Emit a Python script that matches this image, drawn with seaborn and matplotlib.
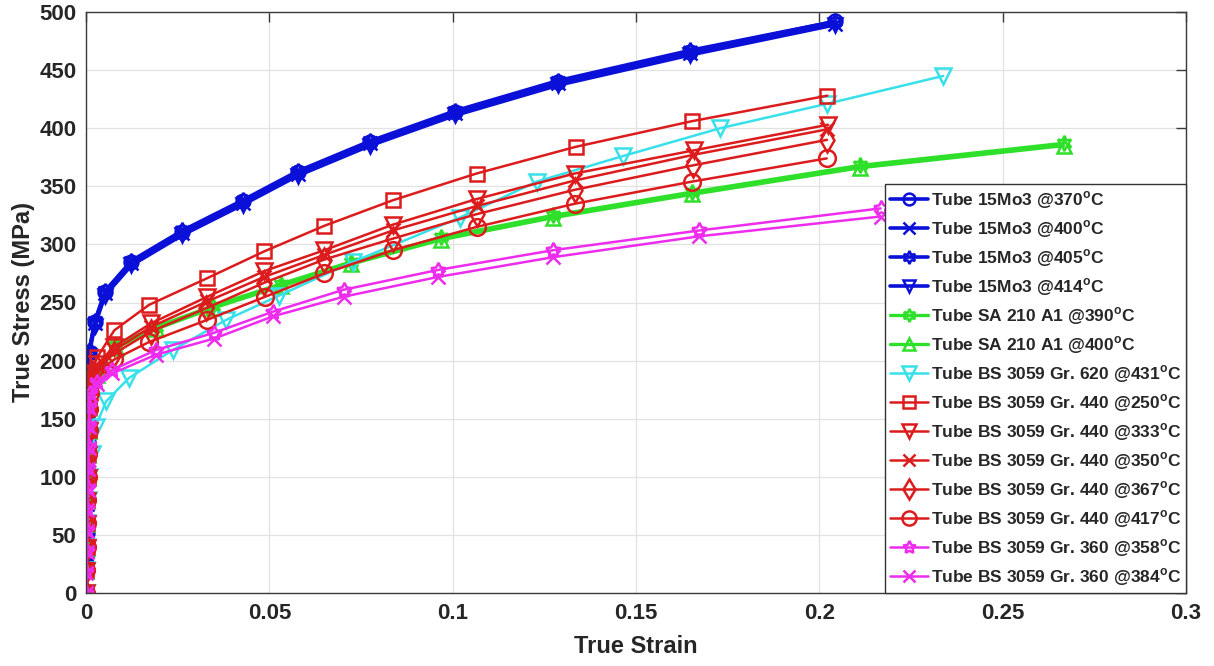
import matplotlib
matplotlib.use("Agg")
import matplotlib.pyplot as plt
import seaborn as sns
import pandas as pd

# ---------------- data ----------------
# Tube 15Mo3 (blue)
b370_x = [0, 0.0001, 0.0002, 0.0003, 0.0004, 0.0005, 0.0006, 0.0000, 0.0008, 0.0024, 0.0052, 0.0124, 0.0263, 0.0427, 0.0577, 0.0775, 0.1007, 0.1288, 0.1648, 0.2044]
b370_y = [0, 26, 52, 78, 104, 130, 155, 181, 207, 233, 259, 285, 311, 337, 362, 388, 414, 440, 466, 492]
b400_x = [0, 0.0001, 0.0002, 0.0003, 0.0004, 0.0005, 0.0006, 0.0000, 0.0008, 0.0024, 0.0052, 0.0124, 0.0263, 0.0427, 0.0577, 0.0775, 0.1007, 0.1288, 0.1648, 0.2044]
b400_y = [0, 25, 51, 77, 103, 129, 154, 180, 206, 232, 258, 284, 310, 336, 361, 387, 413, 439, 465, 490]
b405_x = [0, 0.0001, 0.0002, 0.0003, 0.0004, 0.0005, 0.0006, 0.0000, 0.0008, 0.0024, 0.0052, 0.0124, 0.0263, 0.0427, 0.0577, 0.0775, 0.1007, 0.1288, 0.1648, 0.2044]
b405_y = [0, 27, 53, 79, 105, 131, 156, 182, 208, 234, 260, 286, 312, 338, 363, 389, 415, 441, 467, 492]
b414_x = [0, 0.0001, 0.0002, 0.0003, 0.0004, 0.0005, 0.0006, 0.0000, 0.0008, 0.0024, 0.0052, 0.0124, 0.0263, 0.0427, 0.0577, 0.0775, 0.1007, 0.1288, 0.1648, 0.2044]
b414_y = [0, 25, 50, 76, 102, 127, 152, 178, 204, 230, 256, 282, 308, 334, 359, 385, 411, 437, 463, 489]

# Tube SA 210 A1 (green)
g390_x = [0, 0.0001, 0.0002, 0.0003, 0.0004, 0.0005, 0.0006, 0.0007, 0.0009, 0.0030, 0.0081, 0.0190, 0.0345, 0.0532, 0.0723, 0.0969, 0.1274, 0.1652, 0.2112, 0.2666]
g390_y = [0, 20, 40, 60, 80, 100, 120, 140, 160, 190, 213, 229, 247, 266, 285, 306, 325, 345, 368, 387]
g400_x = [0, 0.0001, 0.0002, 0.0003, 0.0004, 0.0005, 0.0006, 0.0007, 0.0009, 0.0030, 0.0081, 0.0190, 0.0345, 0.0532, 0.0723, 0.0969, 0.1274, 0.1652, 0.2112, 0.2666]
g400_y = [0, 19, 39, 59, 79, 99, 119, 139, 159, 188, 211, 227, 245, 264, 283, 304, 323, 343, 366, 385]

# Tube BS 3059 Gr. 620 (cyan)
c431_x = [0, 0.0001, 0.0002, 0.0004, 0.0006, 0.0008, 0.0017, 0.0026, 0.0055, 0.0117, 0.0236, 0.0382, 0.0527, 0.0728, 0.1019, 0.1229, 0.1464, 0.1730, 0.2021, 0.2338]
c431_y = [0, 20, 40, 60, 80, 100, 120, 143, 165, 185, 209, 235, 256, 285, 323, 354, 376, 400, 421, 445]

# Tube BS 3059 Gr. 440 (red)
r_elx = [0, 0.0001, 0.0002, 0.0003, 0.0004, 0.0005, 0.0006, 0.0007, 0.0008, 0.0010, 0.0014]
r250_x = r_elx + [0.0031, 0.0077, 0.0172, 0.0331, 0.0486, 0.0650, 0.0837, 0.1065, 0.1336, 0.1652, 0.2022]
r250_y = [0, 20, 40, 60, 80, 100, 120, 140, 160, 178, 190, 203, 226, 248, 271, 294, 316, 338, 361, 384, 406, 428]
r333_x = r_elx + [0.0031, 0.0077, 0.0177, 0.0331, 0.0486, 0.0650, 0.0837, 0.1065, 0.1333, 0.1659, 0.2024]
r333_y = [0, 19, 39, 59, 79, 99, 119, 139, 159, 176, 188, 197, 212, 232, 255, 277, 295, 317, 339, 361, 381, 403]
r350_x = r_elx + [0.0031, 0.0077, 0.0177, 0.0331, 0.0486, 0.0650, 0.0837, 0.1065, 0.1333, 0.1655, 0.2021]
r350_y = [0, 20, 40, 60, 80, 100, 120, 140, 160, 176, 187, 195, 209, 229, 251, 272, 291, 312, 333, 355, 377, 399]
r367_x = r_elx + [0.0031, 0.0077, 0.0177, 0.0327, 0.0486, 0.0650, 0.0837, 0.1065, 0.1333, 0.1655, 0.2021]
r367_y = [0, 19, 39, 59, 79, 99, 119, 139, 159, 175, 186, 194, 206, 225, 245, 267, 287, 305, 326, 347, 368, 390]
r417_x = r_elx + [0.0031, 0.0077, 0.0172, 0.0330, 0.0489, 0.0650, 0.0837, 0.1065, 0.1333, 0.1652, 0.2020]
r417_y = [0, 20, 40, 60, 80, 100, 120, 140, 158, 172, 182, 190, 201, 216, 235, 255, 275, 295, 315, 335, 354, 374]

# Tube BS 3059 Gr. 360 (magenta)
m_elx = [0, 0.0001, 0.0002, 0.0003, 0.0004, 0.0005, 0.0006, 0.0007, 0.0008, 0.0009, 0.0012, 0.0030]
m358_x = m_elx + [0.0072, 0.0190, 0.0350, 0.0509, 0.0703, 0.0960, 0.1274, 0.1673, 0.2167]
m358_y = [0, 18, 36, 54, 72, 90, 108, 126, 144, 160, 172, 182, 192, 209, 224, 242, 261, 278, 295, 312, 331]
m384_x = m_elx + [0.0072, 0.0190, 0.0350, 0.0509, 0.0703, 0.0960, 0.1274, 0.1673, 0.2167]
m384_y = [0, 17, 35, 53, 71, 89, 107, 125, 143, 159, 170, 180, 189, 205, 219, 238, 255, 272, 289, 307, 324]

labels = [
    "Tube 15Mo3 @370", "Tube 15Mo3 @400", "Tube 15Mo3 @405", "Tube 15Mo3 @414",
    "Tube SA 210 A1 @390", "Tube SA 210 A1 @400", "Tube BS 3059 Gr. 620 @431",
    "Tube BS 3059 Gr. 440 @250", "Tube BS 3059 Gr. 440 @333", "Tube BS 3059 Gr. 440 @350",
    "Tube BS 3059 Gr. 440 @367", "Tube BS 3059 Gr. 440 @417",
    "Tube BS 3059 Gr. 360 @358", "Tube BS 3059 Gr. 360 @384",
]
xs = [b370_x, b400_x, b405_x, b414_x, g390_x, g400_x, c431_x,
      r250_x, r333_x, r350_x, r367_x, r417_x, m358_x, m384_x]
ys = [b370_y, b400_y, b405_y, b414_y, g390_y, g400_y, c431_y,
      r250_y, r333_y, r350_y, r367_y, r417_y, m358_y, m384_y]

x_ticks = [0, 0.05, 0.1, 0.15, 0.2, 0.25, 0.3]
x_tick_labels = ["0", "0.05", "0.1", "0.15", "0.2", "0.25", "0.3"]
y_ticks = [0, 50, 100, 150, 200, 250, 300, 350, 400, 450, 500]

# ---------------- styling ----------------
BLUE, GREEN, CYAN, RED, MAG = "#0a10d8", "#2fe02a", "#38e0ea", "#dc1c1c", "#ee2ced"
hexagram = (6, 1, 0)
pentagram = (5, 1, 0)
styles = [
    dict(color=BLUE, marker="o", ms=10, lw=2.6),
    dict(color=BLUE, marker="x", ms=10, lw=2.6),
    dict(color=BLUE, marker=hexagram, ms=11, lw=2.6),
    dict(color=BLUE, marker="v", ms=10, lw=2.6),
    dict(color=GREEN, marker=hexagram, ms=11, lw=2.4),
    dict(color=GREEN, marker="^", ms=10, lw=2.4),
    dict(color=CYAN, marker="v", ms=12, lw=1.8),
    dict(color=RED, marker="s", ms=10, lw=1.8),
    dict(color=RED, marker="v", ms=12, lw=1.8),
    dict(color=RED, marker="x", ms=10, lw=1.8),
    dict(color=RED, marker="d", ms=12, lw=1.8),
    dict(color=RED, marker="o", ms=12, lw=1.8),
    dict(color=MAG, marker=pentagram, ms=11, lw=1.8),
    dict(color=MAG, marker="x", ms=10, lw=1.8),
]

sns.set_style("white")
plt.rcParams["font.family"] = ["Liberation Sans", "DejaVu Sans"]
plt.rcParams["font.weight"] = "bold"
plt.rcParams["mathtext.fontset"] = "custom"
plt.rcParams["mathtext.bf"] = "Liberation Sans:bold"
plt.rcParams["mathtext.rm"] = "Liberation Sans:bold"

fig = plt.figure(figsize=(12.14, 6.66), dpi=100)
ax = fig.add_axes([86 / 1214, 73 / 666, 1100 / 1214, 581 / 666])

for lab, x, y, st in zip(labels, xs, ys, styles):
    df = pd.DataFrame({"strain": x, "stress": y})
    sns.lineplot(data=df, x="strain", y="stress", ax=ax, sort=False, estimator=None,
                 color=st["color"], linewidth=st["lw"], marker=st["marker"],
                 markersize=st["ms"], markerfacecolor="none",
                 markeredgecolor=st["color"], markeredgewidth=1.8,
                 label=lab + r"$^{\mathbf{o}}$C")

ax.set_xlim(0, 0.3)
ax.set_ylim(0, 500)
ax.set_xticks(x_ticks)
ax.set_xticklabels(x_tick_labels)
ax.set_yticks(y_ticks)
ax.grid(True, color="#e2e2e2", linewidth=0.9)
ax.set_axisbelow(True)
for s in ax.spines.values():
    s.set_color("#3a3a3a")
    s.set_linewidth(1.0)
ax.tick_params(direction="in", top=True, right=True, length=7, width=1,
               color="#3a3a3a", labelsize=16, pad=7)
for t in ax.get_xticklabels() + ax.get_yticklabels():
    t.set_fontweight("bold")
    t.set_color("#262626")
ax.set_xlabel("True Strain", fontsize=17, fontweight="bold", color="#262626", labelpad=8)
ax.set_ylabel("True Stress (MPa)", fontsize=17, fontweight="bold", color="#262626", labelpad=3)

leg = ax.legend(loc="lower right", bbox_to_anchor=(1, 0), borderaxespad=0,
                frameon=True, fancybox=False, framealpha=1, edgecolor="#333333",
                prop={"weight": "bold", "size": 12.5}, handlelength=2.2,
                handletextpad=0.15, labelspacing=0.42, borderpad=0.3, markerscale=0.85)
leg.get_frame().set_linewidth(1.0)

fig.savefig("out.png", dpi=100)
